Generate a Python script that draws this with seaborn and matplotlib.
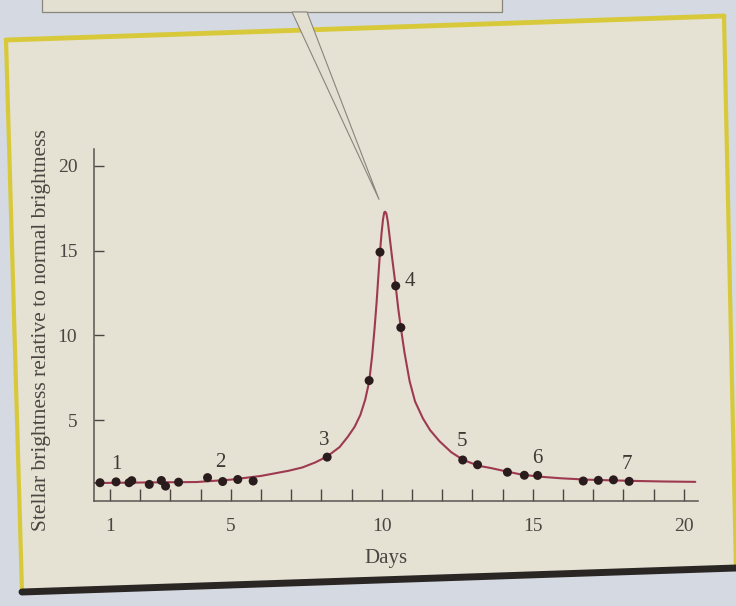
import matplotlib
matplotlib.use("Agg")
import matplotlib.pyplot as plt
import seaborn as sns
from matplotlib.patches import Polygon
from matplotlib.lines import Line2D

# Observed brightness (relative to normal) by day
obs_day = [0.67, 1.2, 1.63, 1.72, 2.3, 2.7, 2.84, 3.27, 4.23, 4.73, 5.23, 5.74,
           8.19, 9.58, 9.94, 10.46, 10.63, 12.68, 13.17, 14.16, 14.72, 15.16,
           16.67, 17.17, 17.67, 18.19]
obs_val = [1.3, 1.35, 1.3, 1.42, 1.2, 1.43, 1.1, 1.33, 1.6, 1.37, 1.49, 1.4,
           2.81, 7.33, 14.91, 12.92, 10.46, 2.64, 2.36, 1.92, 1.74, 1.73,
           1.4, 1.44, 1.47, 1.38]

# Drawn light curve
curve_day = [0.47, 1.5, 2.5, 3.87, 5.0, 6.0, 6.9, 7.37, 7.8, 8.19, 8.6, 8.87,
             9.1, 9.29, 9.45, 9.58, 9.68, 9.76, 9.83, 9.89, 9.94, 9.99, 10.04,
             10.08, 10.11, 10.15, 10.2, 10.26, 10.34, 10.46, 10.55, 10.63,
             10.75, 10.92, 11.1, 11.36, 11.6, 11.91, 12.3, 12.69, 13.2, 13.6,
             14.16, 14.63, 15.2, 15.94, 16.8, 17.6, 18.5, 19.4, 20.38]
curve_val = [1.28, 1.3, 1.32, 1.34, 1.48, 1.7, 2.0, 2.2, 2.5, 2.85, 3.4, 4.0,
             4.6, 5.3, 6.2, 7.25, 8.8, 10.4, 12.0, 13.6, 14.9, 16.0, 16.85,
             17.25, 17.3, 17.2, 16.7, 15.8, 14.6, 12.9, 11.5, 10.46,
             9.0, 7.3, 6.1, 5.1, 4.4, 3.75, 3.1, 2.65, 2.3, 2.17,
             1.95, 1.78, 1.66, 1.56, 1.48, 1.44, 1.4, 1.37, 1.35]

# numbered observations: label text and index of the point it sits by
point_labels = ["1", "2", "3", "4", "5", "6", "7"]
label_points = [1, 9, 12, 15, 17, 21, 25]

x_ticks = list(range(1, 21))
x_labelled = [1, 5, 10, 15, 20]
y_ticks = [5, 10, 15, 20]

sns.set_theme(style="ticks")
plt.rcParams["font.family"] = ["Liberation Serif", "DejaVu Serif"]

W, H = 736, 606
ink = "#4b4641"


def fp(x, y):
    # figure pixel (from top-left) -> figure fraction
    return (x / W, 1 - y / H)


fig = plt.figure(figsize=(W / 100, H / 100), dpi=100)
fig.patch.set_facecolor("#d4d9e2")

# page panel behind the chart
panel = [fp(6, 40), fp(724, 16), fp(736, 568), fp(22, 592)]
fig.add_artist(Polygon(panel, closed=True, transform=fig.transFigure,
                       facecolor="#e5e1d3", edgecolor="none", zorder=-3))
for a, b, c, lw in [((6, 40), (724, 16), "#d8c93a", 3.5),
                    ((6, 40), (22, 592), "#d8c93a", 3),
                    ((724, 16), (736, 568), "#d8c93a", 3),
                    ((22, 592), (736, 568), "#2a2624", 5)]:
    p, q = fp(*a), fp(*b)
    fig.add_artist(Line2D([p[0], q[0]], [p[1], q[1]], transform=fig.transFigure,
                          color=c, lw=lw, zorder=-2))

ax = fig.add_axes([94 / W, 1 - 501 / H, 604 / W, 352 / H])
ax.set_facecolor("none")

sns.lineplot(x=curve_day, y=curve_val, ax=ax, color="#9e3a50", lw=1.5,
             estimator=None, zorder=2)
sns.scatterplot(x=obs_day, y=obs_val, ax=ax, s=42, color="#2a1c1c",
                edgecolor="none", zorder=3)

offsets = [(0, 17), (-2, 19), (-3, 17), (14, 4), (-1, 19), (0, 17), (-2, 17)]
for txt, idx, off in zip(point_labels, label_points, offsets):
    ax.annotate(txt, (obs_day[idx], obs_val[idx]), xytext=off,
                textcoords="offset pixels", ha="center", va="center",
                fontsize=15, color="#3e3935")

ax.set_xlim(0.47, 20.47)
ax.set_ylim(0.22, 21.0)
ax.set_xticks(x_ticks)
ax.set_xticklabels([str(d) if d in x_labelled else "" for d in x_ticks])
ax.set_yticks(y_ticks)
ax.tick_params(axis="x", direction="in", length=8.5, width=1, pad=12,
               labelsize=14, colors=ink)
ax.tick_params(axis="y", direction="in", length=7, width=1, pad=12,
               labelsize=14, colors=ink)
sns.despine(ax=ax)
for s in ["left", "bottom"]:
    ax.spines[s].set_color("#5a5550")
    ax.spines[s].set_linewidth(1.1)

ax.set_xlabel("Days", fontsize=15, color=ink)
ax.xaxis.set_label_coords(0.483, -0.135)
ax.set_ylabel("Stellar brightness relative to normal brightness", fontsize=15.5,
              color=ink)
ax.yaxis.set_label_coords(-0.072, 0.485)

# callout box edge and pointer wedge toward the peak
box = [fp(42, -5), fp(502, -5), fp(502, 12), fp(42, 12)]
fig.add_artist(Polygon(box, closed=True, transform=fig.transFigure,
                       facecolor="#e3dfd1", edgecolor="#8a857c", lw=0.9,
                       zorder=-1))
ipk = curve_val.index(max(curve_val))
tx, ty = ax.transData.transform((curve_day[ipk], curve_val[ipk]))
tip = ((tx - 6) / W, (ty + 12) / H)
wedge = [fp(292, 12), fp(307, 12), tip]
fig.add_artist(Polygon(wedge, closed=True, transform=fig.transFigure,
                       facecolor="#e3dfd1", edgecolor="#8a857c", lw=0.8,
                       zorder=-1))

fig.savefig("out.png", dpi=100, facecolor=fig.get_facecolor())
